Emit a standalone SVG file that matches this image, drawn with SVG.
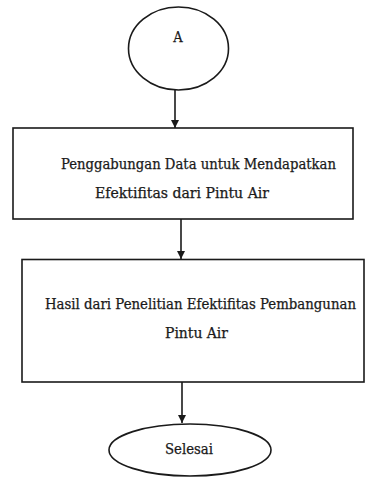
<svg xmlns="http://www.w3.org/2000/svg" width="366" height="478" viewBox="0 0 366 478">
<style>
.s{fill:#fff;stroke:#1a1a1a;stroke-width:1.6}
.t{font-family:"DejaVu Serif Condensed","DejaVu Serif","Liberation Serif",serif;font-size:14.5px;fill:#1a1a1a;stroke:#1a1a1a;stroke-width:0.25}
.c{stroke:#1a1a1a;stroke-width:1.6;fill:none;marker-end:url(#ah)}
</style>
<defs>
<marker id="ah" viewBox="0 0 8 10" refX="8" refY="5" markerWidth="8" markerHeight="10" markerUnits="userSpaceOnUse" orient="auto">
<path d="M0,1 L8,5 L0,9 z" fill="#1a1a1a"/>
</marker>
</defs>
<rect width="366" height="478" fill="#fff"/>
<g id="connectors">
<line class="c" x1="175" y1="90" x2="175" y2="128"/>
<line class="c" x1="181" y1="219" x2="181" y2="259"/>
<line class="c" x1="182" y1="382" x2="182" y2="423"/>
</g>
<g id="node-a">
<ellipse class="s" cx="178.5" cy="48.5" rx="50" ry="41.5"/>
<text class="t" x="178" y="42" text-anchor="middle">A</text>
</g>
<g id="node-penggabungan">
<rect class="s" x="13" y="128" width="340" height="91"/>
<text class="t" x="61" y="168.5" textLength="275" lengthAdjust="spacingAndGlyphs">Penggabungan Data untuk Mendapatkan</text>
<text class="t" x="95" y="197.5" textLength="174" lengthAdjust="spacingAndGlyphs">Efektifitas dari Pintu Air</text>
</g>
<g id="node-hasil">
<rect class="s" x="22" y="259.5" width="342" height="122.5"/>
<text class="t" x="45" y="308.5" textLength="311" lengthAdjust="spacingAndGlyphs">Hasil dari Penelitian Efektifitas Pembangunan</text>
<text class="t" x="165" y="337.5" textLength="63" lengthAdjust="spacingAndGlyphs">Pintu Air</text>
</g>
<g id="node-selesai">
<ellipse class="s" cx="190" cy="450" rx="81" ry="26"/>
<text class="t" x="189" y="453.5" text-anchor="middle" textLength="48" lengthAdjust="spacingAndGlyphs">Selesai</text>
</g>
</svg>
